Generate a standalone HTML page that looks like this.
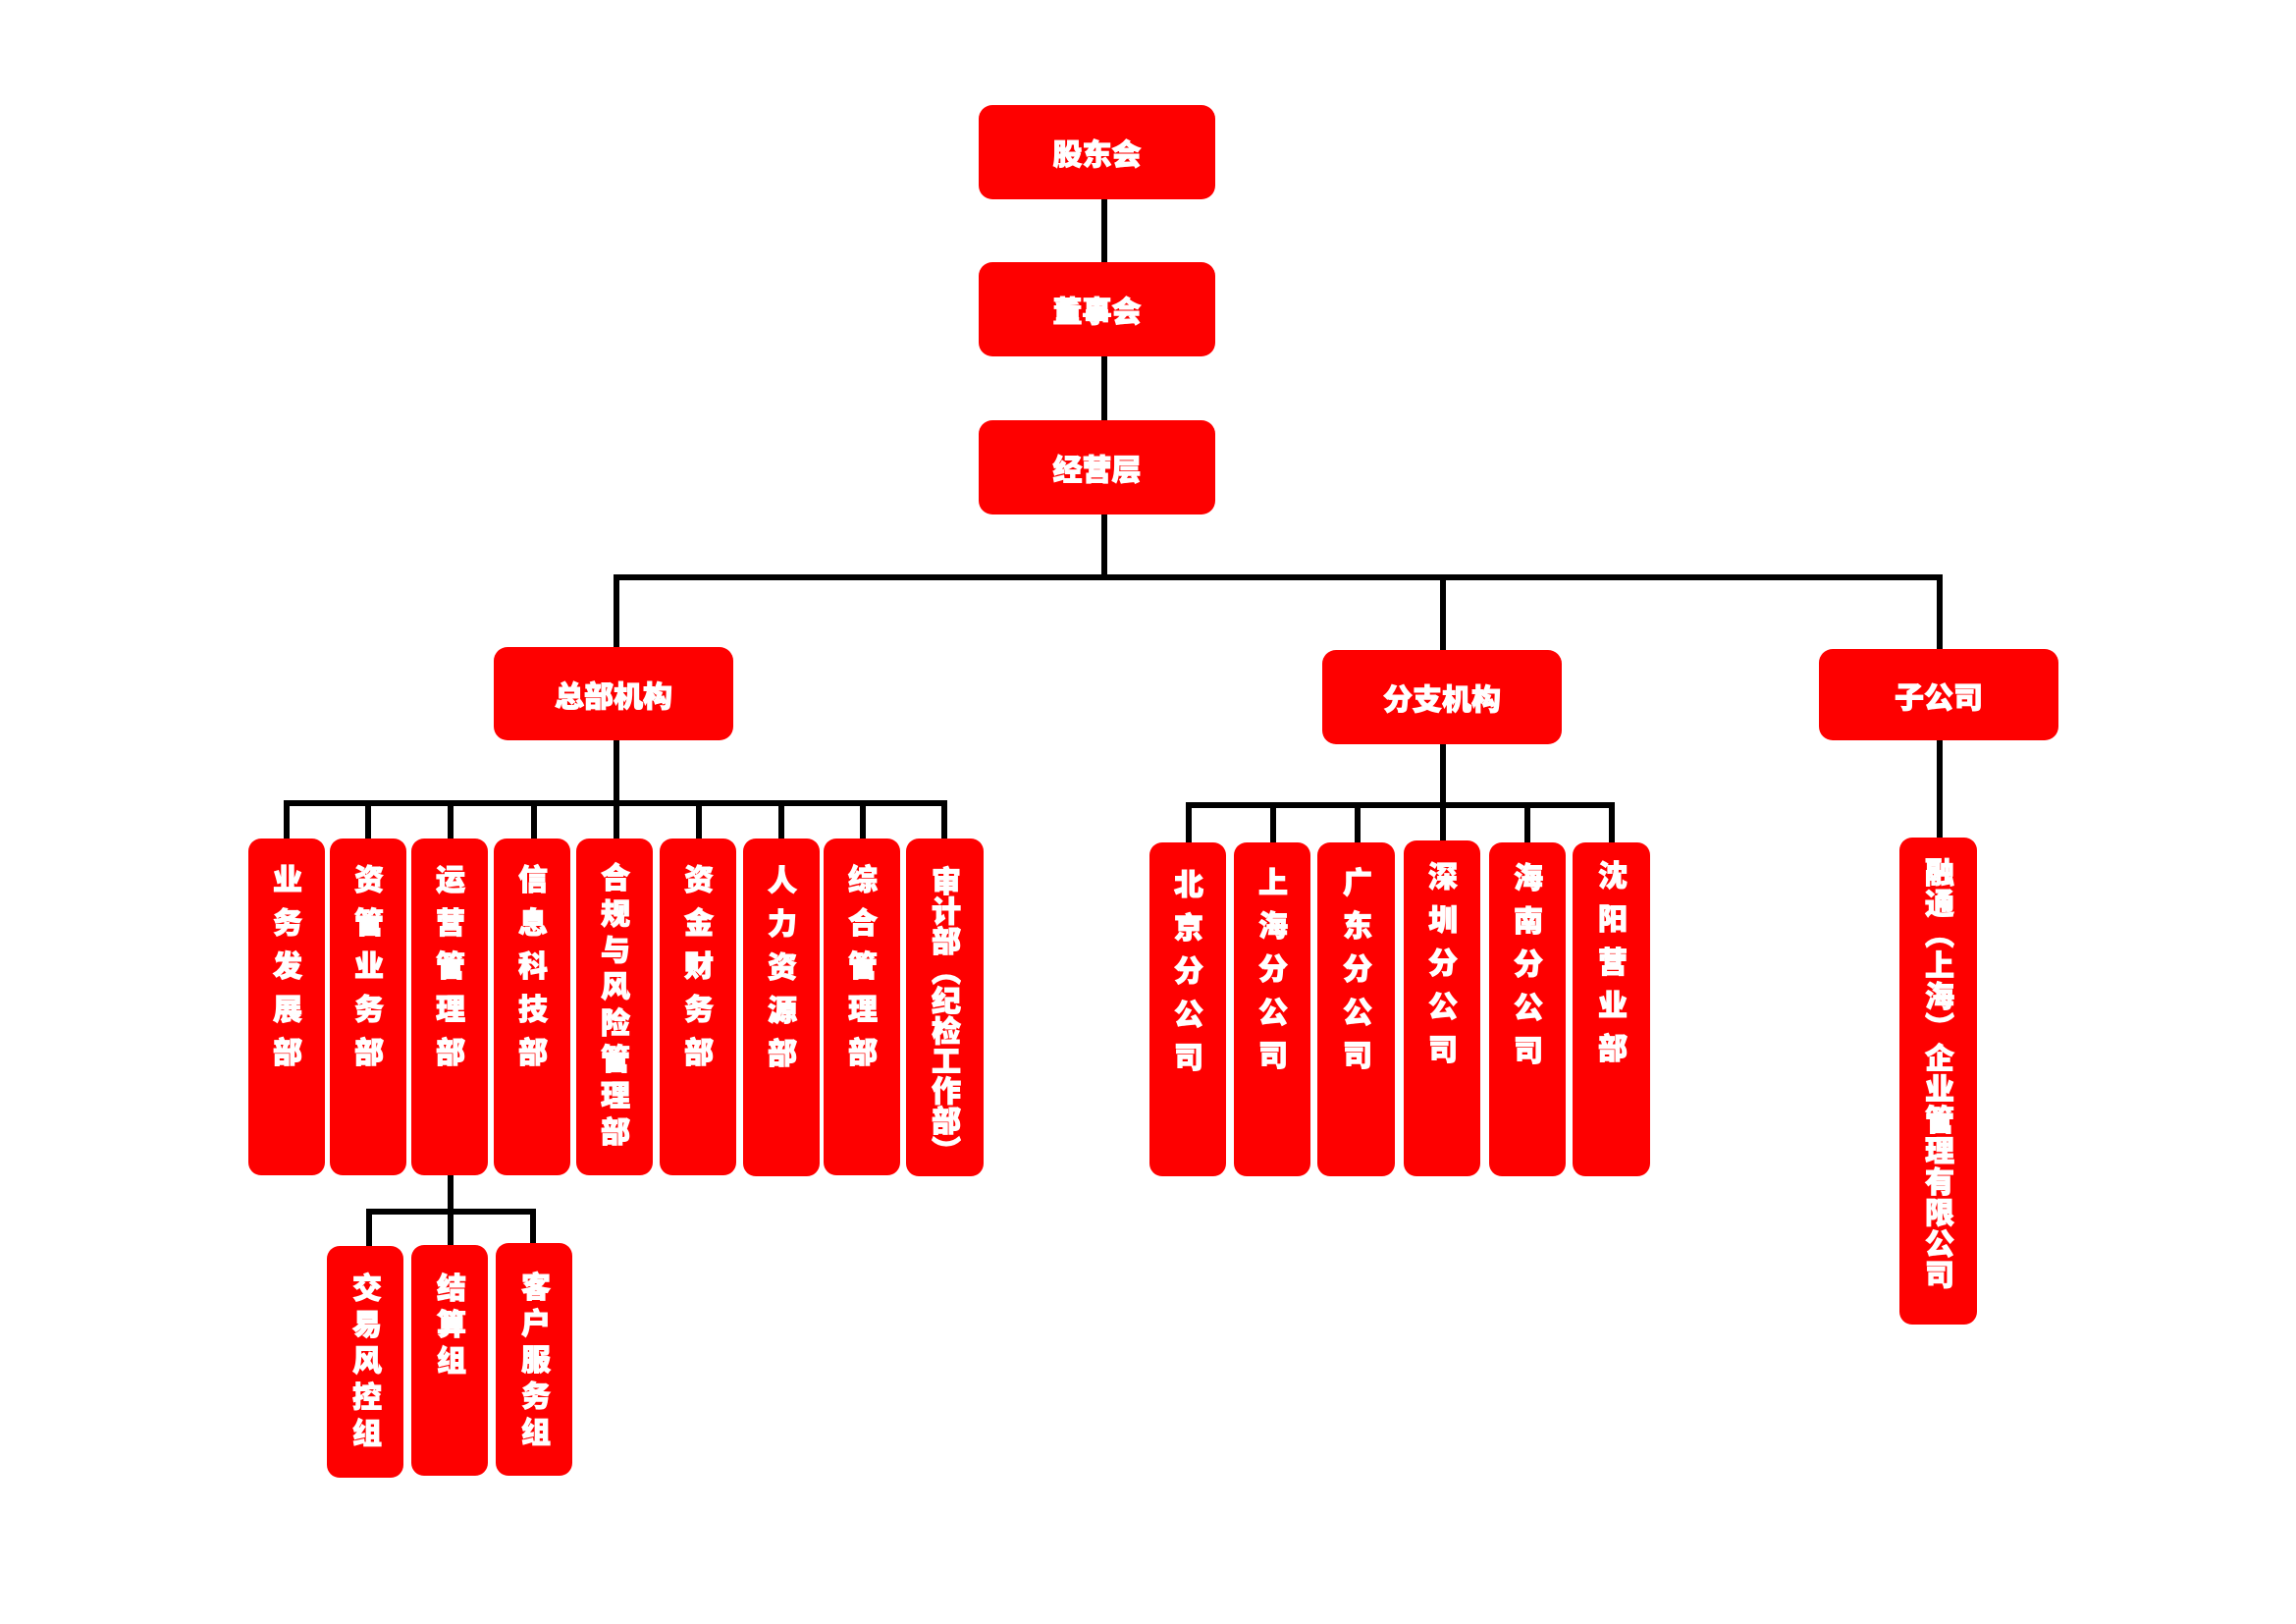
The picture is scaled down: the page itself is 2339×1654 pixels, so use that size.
<!DOCTYPE html>
<html lang="zh">
<head>
<meta charset="utf-8">
<style>
  html, body { margin:0; padding:0; background:#ffffff; }
  body { width:2339px; height:1654px; position:relative; overflow:hidden;
         font-family:"Liberation Sans","Noto Sans CJK SC","WenQuanYi Zen Hei",sans-serif; }
  .ln { position:absolute; background:#000; }
  .bx { position:absolute; background:#fe0000; border-radius:14px;
        display:flex; align-items:center; justify-content:center;
        color:#fff; font-weight:900; font-size:30px; letter-spacing:0px;
        -webkit-text-stroke:1px #fff; white-space:nowrap; }
  .col { position:absolute; background:#fe0000; border-radius:13px; }
  .vt { position:absolute; writing-mode:vertical-rl; font-size:30px; line-height:30px;
        width:30px; color:#fff; font-weight:900; white-space:nowrap;
        -webkit-text-stroke:1px #fff; }
</style>
</head>
<body>

<!-- connector lines -->
<div class="ln" style="left:1122px;top:203px;width:6px;height:388px"></div>
<div class="ln" style="left:625px;top:585px;width:1354px;height:6px"></div>
<div class="ln" style="left:625px;top:585px;width:6px;height:76px"></div>
<div class="ln" style="left:1467px;top:585px;width:6px;height:79px"></div>
<div class="ln" style="left:1973px;top:585px;width:6px;height:78px"></div>

<!-- 总部 connectors -->
<div class="ln" style="left:625px;top:752px;width:6px;height:69px"></div>
<div class="ln" style="left:289px;top:815px;width:676px;height:6px"></div>
<div class="ln" style="left:289px;top:815px;width:6px;height:42px"></div>
<div class="ln" style="left:372px;top:815px;width:6px;height:42px"></div>
<div class="ln" style="left:456px;top:815px;width:6px;height:42px"></div>
<div class="ln" style="left:541px;top:815px;width:6px;height:42px"></div>
<div class="ln" style="left:625px;top:815px;width:6px;height:42px"></div>
<div class="ln" style="left:709px;top:815px;width:6px;height:42px"></div>
<div class="ln" style="left:793px;top:815px;width:6px;height:42px"></div>
<div class="ln" style="left:876px;top:815px;width:6px;height:42px"></div>
<div class="ln" style="left:959px;top:815px;width:6px;height:42px"></div>

<!-- 运营管理部 sub connectors -->
<div class="ln" style="left:456px;top:1195px;width:6px;height:42px"></div>
<div class="ln" style="left:373px;top:1231px;width:173px;height:6px"></div>
<div class="ln" style="left:373px;top:1231px;width:6px;height:40px"></div>
<div class="ln" style="left:456px;top:1231px;width:6px;height:40px"></div>
<div class="ln" style="left:540px;top:1231px;width:6px;height:40px"></div>

<!-- 分支 connectors -->
<div class="ln" style="left:1467px;top:756px;width:6px;height:67px"></div>
<div class="ln" style="left:1208px;top:817px;width:437px;height:6px"></div>
<div class="ln" style="left:1208px;top:817px;width:6px;height:43px"></div>
<div class="ln" style="left:1294px;top:817px;width:6px;height:43px"></div>
<div class="ln" style="left:1380px;top:817px;width:6px;height:43px"></div>
<div class="ln" style="left:1467px;top:817px;width:6px;height:43px"></div>
<div class="ln" style="left:1553px;top:817px;width:6px;height:43px"></div>
<div class="ln" style="left:1639px;top:817px;width:6px;height:43px"></div>

<!-- 子公司 connector -->
<div class="ln" style="left:1973px;top:752px;width:6px;height:104px"></div>

<!-- top level boxes -->
<div class="bx" style="left:997px;top:107px;width:241px;height:96px">股东会</div>
<div class="bx" style="left:997px;top:267px;width:241px;height:96px">董事会</div>
<div class="bx" style="left:997px;top:428px;width:241px;height:96px">经营层</div>

<div class="bx" style="left:503px;top:659px;width:244px;height:95px">总部机构</div>
<div class="bx" style="left:1347px;top:662px;width:244px;height:96px">分支机构</div>
<div class="bx" style="left:1853px;top:661px;width:244px;height:93px">子公司</div>

<!-- 总部 children -->
<div class="col" style="left:253px;top:854px;width:78px;height:343px"></div>
<div class="col" style="left:336px;top:854px;width:78px;height:343px"></div>
<div class="col" style="left:419px;top:854px;width:78px;height:343px"></div>
<div class="col" style="left:503px;top:854px;width:78px;height:343px"></div>
<div class="col" style="left:587px;top:854px;width:78px;height:343px"></div>
<div class="col" style="left:672px;top:854px;width:78px;height:343px"></div>
<div class="col" style="left:757px;top:854px;width:78px;height:344px"></div>
<div class="col" style="left:839px;top:854px;width:78px;height:343px"></div>
<div class="col" style="left:923px;top:854px;width:79px;height:344px"></div>

<div class="vt" style="left:274px;top:880px;letter-spacing:14px">业务发展部</div>
<div class="vt" style="left:357px;top:880px;letter-spacing:14px">资管业务部</div>
<div class="vt" style="left:440px;top:880px;letter-spacing:14px">运营管理部</div>
<div class="vt" style="left:524px;top:880px;letter-spacing:14px">信息科技部</div>
<div class="vt" style="left:608px;top:878px;letter-spacing:7px">合规与风险管理部</div>
<div class="vt" style="left:693px;top:880px;letter-spacing:14px">资金财务部</div>
<div class="vt" style="left:778px;top:881px;letter-spacing:14px">人力资源部</div>
<div class="vt" style="left:860px;top:880px;letter-spacing:14px">综合管理部</div>
<div class="vt" style="left:945px;top:882px;letter-spacing:0.5px">审计部（纪检工作部）</div>

<!-- 运营管理部 sub groups -->
<div class="col" style="left:333px;top:1269px;width:78px;height:236px"></div>
<div class="col" style="left:419px;top:1268px;width:78px;height:235px"></div>
<div class="col" style="left:505px;top:1266px;width:78px;height:237px"></div>

<div class="vt" style="left:355px;top:1296px;letter-spacing:7px">交易风控组</div>
<div class="vt" style="left:441px;top:1296px;letter-spacing:7px">结算组</div>
<div class="vt" style="left:527px;top:1295px;letter-spacing:7px">客户服务组</div>

<!-- 分支 children -->
<div class="col" style="left:1171px;top:858px;width:78px;height:340px"></div>
<div class="col" style="left:1257px;top:858px;width:78px;height:340px"></div>
<div class="col" style="left:1342px;top:858px;width:79px;height:340px"></div>
<div class="col" style="left:1430px;top:856px;width:78px;height:342px"></div>
<div class="col" style="left:1517px;top:858px;width:78px;height:340px"></div>
<div class="col" style="left:1602px;top:858px;width:79px;height:340px"></div>

<div class="vt" style="left:1192px;top:885px;letter-spacing:14px">北京分公司</div>
<div class="vt" style="left:1278px;top:883px;letter-spacing:14px">上海分公司</div>
<div class="vt" style="left:1364px;top:883px;letter-spacing:14px">广东分公司</div>
<div class="vt" style="left:1451px;top:877px;letter-spacing:14px">深圳分公司</div>
<div class="vt" style="left:1538px;top:878px;letter-spacing:14px">海南分公司</div>
<div class="vt" style="left:1624px;top:876px;letter-spacing:14px">沈阳营业部</div>

<!-- 子公司 child -->
<div class="col" style="left:1935px;top:853px;width:79px;height:496px"></div>
<div class="vt" style="left:1957px;top:873px;letter-spacing:1.5px">融通（上海）企业管理有限公司</div>

</body>
</html>
